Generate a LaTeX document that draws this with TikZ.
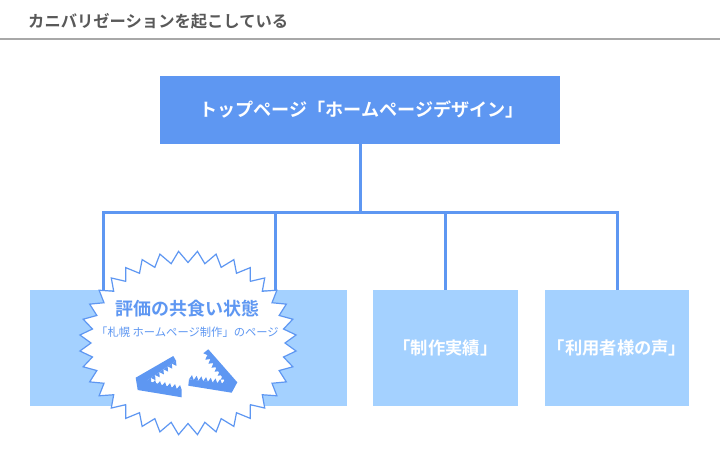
\documentclass[tikz,border=0pt]{standalone}
\usepackage{fontspec}
\usetikzlibrary{calc}
\setmainfont{Noto Sans CJK JP}[BoldFont={Noto Sans CJK JP Bold}]
\definecolor{blueA}{HTML}{5E97F2}
\definecolor{blueB}{HTML}{A4D1FF}
\definecolor{greyT}{HTML}{595959}
\definecolor{greyL}{HTML}{A8A8A8}
\tikzset{
 x=1pt,y=-1pt,
 boxA/.style={fill=blueA,text=white,inner sep=0pt},
 boxB/.style={fill=blueB,text=white,inner sep=0pt,font=\bfseries\fontsize{17.3}{20}\selectfont},
 conn/.style={draw=blueA,line width=3pt},
 burst/.style={draw=blueA,fill=white,line width=1.2pt,line join=miter},
 jaw/.style={fill=blueA,draw=none}
}
% teeth from point A to point B (n teeth, depth d, turning angle)
\newcommand{\jawteeth}[5]{%
 \foreach \i in {1,...,#3}{
  \fill[blueA] ($(#1)!{(\i-1)/#3}!(#2)$) -- ($($(#1)!{(\i-0.5)/#3}!(#2)$)!#4!#5:(#2)$) -- ($(#1)!{\i/#3}!(#2)$) -- cycle;
 }}
\begin{document}
\begin{tikzpicture}
\useasboundingbox (0,0) rectangle (720,460);
\fill[white] (0,0) rectangle (720,460);
\node[anchor=west,text=greyT,inner sep=0pt,font=\bfseries\fontsize{16.3}{18}\selectfont] (title) at (28,21) {カニバリゼーションを起こしている};
\coordinate (ruleL) at (0,39); \coordinate (ruleR) at (720,39);
\draw[greyL,line width=1.6pt] (ruleL) -- (ruleR);
% boxes
\node[boxA,minimum width=400pt,minimum height=67pt] (top) at (360,110) {};
\node[fill=blueB,inner sep=0pt,minimum width=317pt,minimum height=116pt] (left) at (188.5,348) {};
\node[boxB,minimum width=145pt,minimum height=116pt] (mid) at (445.5,348) {\raisebox{1pt}{「制作実績」}};
\node[boxB,minimum width=144pt,minimum height=116pt] (right) at (617,348) {\raisebox{1pt}{「利用者様の声」}};
\node[text=white,inner sep=0pt,font=\bfseries\fontsize{18.1}{20}\selectfont] (toplabel) at (361.5,109) {トップページ「ホームページデザイン」};
% connectors
\coordinate (bus) at (360,212);
\coordinate (dropA) at (103,290);
\coordinate (dropB) at (275,290);
\draw[conn] (top.south) -- (bus);
\draw[conn,line join=miter] (dropA) -- (dropA |- bus) -- (right.north |- bus) -- (right.north);
\draw[conn] (dropB |- bus) -- (dropB);
\draw[conn] (mid.north |- bus) -- (mid.north);
% burst
\path[burst] plot[samples at={0,5,...,355}] ({188+(\x/10==int(\x/10) ? 97 : 108.5)*cos(\x)},{343+(\x/10==int(\x/10) ? 80.5 : 92)*sin(\x)}) -- cycle;
\node[text=blueA,inner sep=0pt,font=\bfseries\fontsize{18}{20}\selectfont] (burstA) at (187,309) {評価の共食い状態};
\node[text=blueA,inner sep=0pt,font=\fontsize{11.3}{13}\selectfont] (burstB) at (187.5,332) {「札幌 ホームページ制作」のページ};
% left jaw
\fill[jaw] (135.7,377.7) -- (173.3,356) -- (176,360.7) -- (146.7,380.7) -- (181.7,390) -- (181.7,397.3) -- (137.7,390) -- cycle;
\jawteeth{176,360.7}{146.7,380.7}{7}{4.5pt}{90}
\jawteeth{181.7,390}{146.7,383}{7}{4.5pt}{-90}
% right jaw
\fill[jaw] (207.3,355) -- (203.3,353.3) -- (208.3,349.3) -- (237.3,382.3) -- (231.7,392.7) -- (188.3,385.7) -- (189,379.3) -- (226.7,384) -- cycle;
\jawteeth{207.3,355}{229,383}{7}{4.5pt}{-90}
\jawteeth{189,379.3}{226.7,384.5}{8}{4.5pt}{90}
\end{tikzpicture}
\end{document}
